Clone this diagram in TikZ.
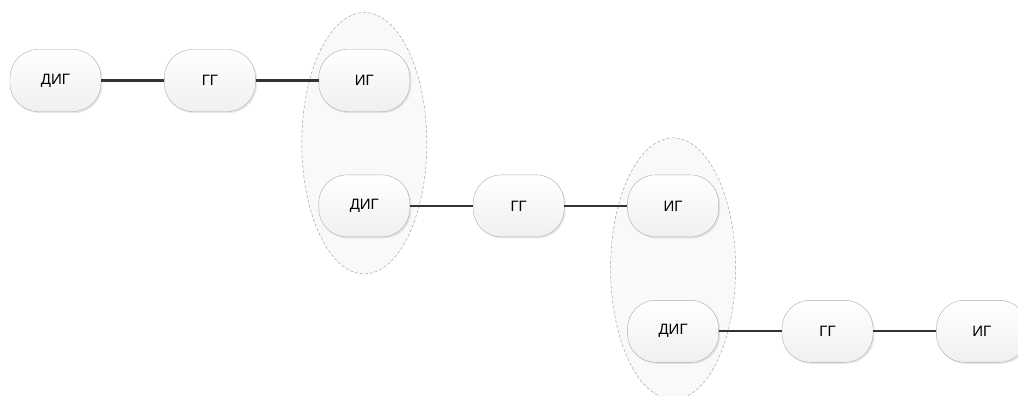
\documentclass[tikz,border=0pt]{standalone}
\usepackage{fontspec}
\setmainfont{Liberation Sans}
\usepackage{xcolor}
\usepackage{tikz}
\usetikzlibrary{positioning,shapes.geometric,fit,shadows,backgrounds}

\begin{document}
\begin{tikzpicture}[
node distance=63pt,
unit/.style={draw=gray!65, rounded corners=28pt, top color=white, bottom color=gray!12,
  minimum width=91pt, minimum height=62pt, inner sep=0pt, font=\fontsize{15}{17}\selectfont,
  drop shadow={opacity=0.18, shadow xshift=1.5pt, shadow yshift=-1.5pt}},
link/.style={line width=2.1pt, draw=gray!40!black},
group/.style={ellipse, draw=gray!70, dashed, dash pattern=on 3pt off 2pt, line width=0.5pt,
  fill=gray!5, inner sep=-1.5pt}
]
\useasboundingbox (0pt,0pt) rectangle (1018pt,-396pt);
\node[unit] (dig1) at (55.5pt,-80.5pt) {ДИГ};
\node[unit, right=of dig1] (gg1) {ГГ};
\node[unit, right=of gg1] (ig1) {ИГ};
\node[unit, below=of ig1] (dig2) {ДИГ};
\node[unit, right=of dig2] (gg2) {ГГ};
\node[unit, right=of gg2] (ig2) {ИГ};
\node[unit, below=of ig2] (dig3) {ДИГ};
\node[unit, right=of dig3] (gg3) {ГГ};
\node[unit, right=of gg3] (ig3) {ИГ};
% groups
\begin{scope}[on background layer]
\node[group, fit=(ig1)(dig2)] (grp1) {};
\node[group, fit=(ig2)(dig3)] (grp2) {};
\end{scope}
% links
\draw[link] (dig1) -- (gg1);
\draw[link] (gg1) -- (ig1);
\draw[link] (dig2) -- (gg2);
\draw[link] (gg2) -- (ig2);
\draw[link] (dig3) -- (gg3);
\draw[link] (gg3) -- (ig3);
\end{tikzpicture}
\end{document}
